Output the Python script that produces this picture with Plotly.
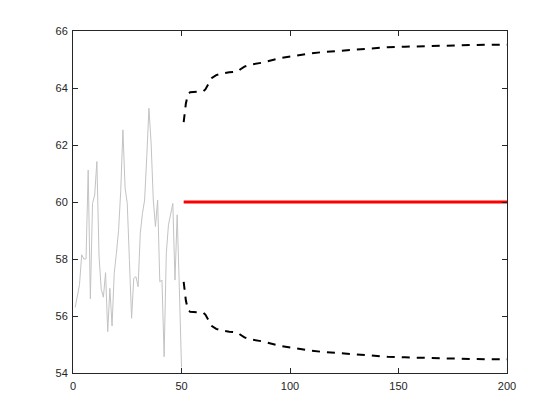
import plotly.graph_objects as go

# Observed series (x = 1..50)
obs_x = list(range(1, 51))
obs_y = [56.3, 56.7, 57.1, 58.15, 58.0, 58.0, 61.12, 56.6, 59.95, 60.25,
         61.42, 58.1, 56.94, 56.66, 57.52, 55.45, 56.97, 55.65, 57.5, 58.2,
         59.0, 60.4, 62.53, 60.5, 59.95, 57.95, 55.92, 57.32, 57.38, 57.03,
         58.9, 59.6, 60.07, 61.6, 63.29, 62.06, 60.07, 59.14, 60.07, 57.2,
         57.26, 54.57, 58.2, 59.2, 59.55, 59.95, 57.26, 59.55, 57.0, 54.2]

# Forecast (constant mean)
fc_x = [51, 200]
fc_y = [60, 60]

# Confidence bounds (knots)
ci_x = [51, 52, 53, 54, 57, 60, 61, 62, 63, 64, 66, 68, 72, 76, 77, 79, 82, 85,
        88, 95, 101, 108, 115, 123, 131, 138, 145, 153, 161, 168, 176, 184, 191, 200]
upper = [62.8, 63.45, 63.8, 63.85, 63.87, 63.88, 63.95, 64.1, 64.25, 64.35, 64.45,
         64.5, 64.55, 64.58, 64.65, 64.75, 64.82, 64.86, 64.9, 65.04, 65.12, 65.2,
         65.26, 65.31, 65.36, 65.39, 65.43, 65.45, 65.47, 65.49, 65.5, 65.51, 65.52, 65.52]
lower = [57.2, 56.55, 56.2, 56.15, 56.13, 56.12, 56.05, 55.9, 55.75, 55.65, 55.55,
         55.5, 55.45, 55.42, 55.35, 55.25, 55.18, 55.14, 55.1, 54.96, 54.88, 54.8,
         54.74, 54.69, 54.64, 54.61, 54.57, 54.55, 54.53, 54.51, 54.5, 54.49, 54.48, 54.48]

x_ticks = [0, 50, 100, 150, 200]
y_ticks = [54, 56, 58, 60, 62, 64, 66]

fig = go.Figure()
fig.add_trace(go.Scatter(x=obs_x, y=obs_y, mode="lines",
                         line=dict(color="rgb(195,195,195)", width=1)))
fig.add_trace(go.Scatter(x=fc_x, y=fc_y, mode="lines",
                         line=dict(color="rgb(255,0,0)", width=3)))
fig.add_trace(go.Scatter(x=ci_x, y=upper, mode="lines",
                         line=dict(color="black", width=2, dash="8px,7px")))
fig.add_trace(go.Scatter(x=ci_x, y=lower, mode="lines",
                         line=dict(color="black", width=2, dash="8px,7px")))

axis_common = dict(showgrid=False, zeroline=False, showline=True, mirror="ticks",
                   linecolor="rgb(38,38,38)", linewidth=1, ticks="inside", ticklen=5,
                   tickcolor="rgb(38,38,38)",
                   tickfont=dict(family="Liberation Sans, Arial", size=11, color="rgb(38,38,38)"))

fig.update_xaxes(range=[0, 200], tickvals=x_ticks, ticklabelstandoff=3, **axis_common)
fig.update_yaxes(range=[54, 66], tickvals=y_ticks, ticklabelstandoff=2, **axis_common)

fig.update_layout(width=560, height=420, showlegend=False,
                  paper_bgcolor="white", plot_bgcolor="white",
                  margin=dict(l=65, r=61, t=23, b=55))

fig.write_html("out.html")
